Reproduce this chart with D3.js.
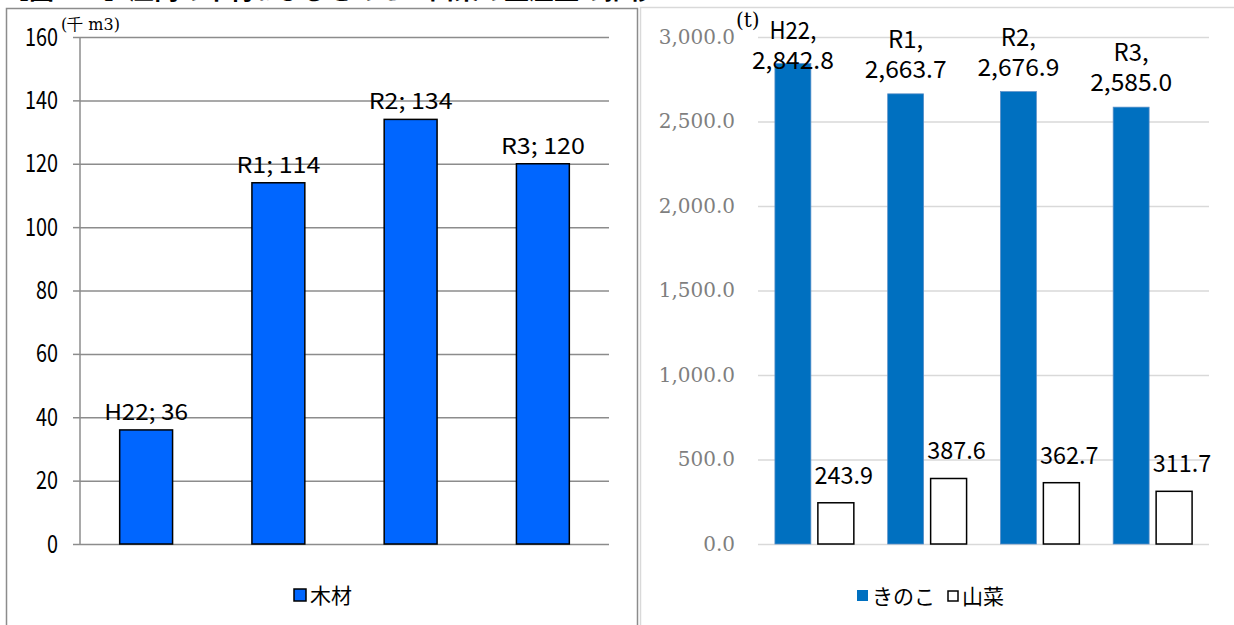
<!DOCTYPE html>
<html>
<head>
<meta charset="utf-8">
<script src="https://cdn.jsdelivr.net/npm/d3@7"></script>
<style>
  body { margin: 0; background: #fff; }
  svg { display: block; }
  .lbl { font-family: 'Noto Sans CJK JP', sans-serif; }
</style>
</head>
<body>
<svg id="chart" width="1234" height="625"></svg>
<script>
// data
const years = ["H22", "R1", "R2", "R3"];
const timber = [36, 114, 134, 120];                // 千m3
const mushroom = [2842.8, 2663.7, 2676.9, 2585.0]; // t
const wildVeg = [243.9, 387.6, 362.7, 311.7];      // t
const timberTicks = [0, 20, 40, 60, 80, 100, 120, 140, 160];
const tonTicks = [0, 500, 1000, 1500, 2000, 2500, 3000];
const seriesNames = ["きのこ", "山菜"];

const svg = d3.select("#chart");
const fmt = d3.format(",.1f");

// squeeze text into fixed-width cells so it looks like the narrow gothic of the original
function mono(sel, perChar) {
    sel.each(function () {
        const t = d3.select(this);
        t.attr("textLength", t.text().length * perChar).attr("lengthAdjust", "spacingAndGlyphs");
    });
}

// title (cut off at top in the original)
svg.append("text")
    .attr("x", 4).attr("y", -1)
    .attr("font-family", "'Noto Sans CJK JP', sans-serif")
    .attr("font-weight", "bold")
    .attr("font-size", 25)
    .text("【図　　】庄内の木材およびきのこ・山菜の生産量の推移");

// panel frames
svg.append("path").attr("d", "M6.5,625 V8.5 H637.5 V625")
    .attr("fill", "none").attr("stroke", "#8c8c8c").attr("stroke-width", 1.5);
svg.append("path").attr("d", "M640.5,625 V7.5 H1234")
    .attr("fill", "none").attr("stroke", "#d9d9d9").attr("stroke-width", 1.5);

// ---------- left: 木材 ----------
const yL = d3.scaleLinear().domain([0, 160]).range([544, 37]);
const xL = d3.scaleBand().domain(years).range([80, 609]).paddingInner(0.6).paddingOuter(0.3);

const gridL = svg.append("g").attr("transform", "translate(80,0)")
    .call(d3.axisLeft(yL).tickValues(timberTicks).tickSize(-529).tickFormat(""));
gridL.select(".domain").remove();
gridL.selectAll(".tick line").attr("stroke", "#8c8c8c").attr("stroke-width", 1.5);

const axL = svg.append("g").attr("transform", "translate(80,0)")
    .call(d3.axisLeft(yL).tickValues(timberTicks).tickSize(7).tickPadding(15));
axL.select(".domain").attr("stroke", "#8c8c8c").attr("stroke-width", 1.5).attr("d", "M0,544V37");
axL.selectAll(".tick line").attr("stroke", "#8c8c8c").attr("stroke-width", 1.5);
axL.selectAll(".tick text").attr("class", "lbl").attr("font-size", 25).attr("fill", "#000")
    .call(mono, 11);

svg.append("text").attr("x", 61).attr("y", 30)
    .attr("font-family", "'DejaVu Serif', serif").attr("font-size", 16)
    .text("(千 m3)");

svg.append("g").selectAll("rect").data(timber).join("rect")
    .attr("x", (d, i) => xL(years[i]))
    .attr("y", d => yL(d))
    .attr("width", xL.bandwidth())
    .attr("height", d => yL(0) - yL(d))
    .attr("fill", "#0066ff")
    .attr("stroke", "#000").attr("stroke-width", 1.5);

svg.append("g").selectAll("text").data(timber).join("text")
    .attr("class", "lbl")
    .attr("x", (d, i) => xL(years[i]) + xL.bandwidth() / 2)
    .attr("y", d => yL(d) - 10)
    .attr("text-anchor", "middle")
    .attr("font-size", 22)
    .text((d, i) => `${years[i]}; ${d}`)
    .call(mono, 12);

// legend left
const legL = svg.append("g").attr("transform", "translate(294,589)");
legL.append("rect").attr("width", 12).attr("height", 12)
    .attr("fill", "#0066ff").attr("stroke", "#000").attr("stroke-width", 1.5);
legL.append("text").attr("x", 16).attr("y", 14)
    .attr("font-family", "'Noto Sans CJK JP', sans-serif").attr("font-size", 21)
    .text("木材");

// ---------- right: きのこ・山菜 ----------
const yR = d3.scaleLinear().domain([0, 3000]).range([544, 37]);
const xR = d3.scaleBand().domain(years).range([758, 1209]).paddingInner(0.3).paddingOuter(0.15);
const xS = d3.scaleBand().domain(seriesNames).range([0, xR.bandwidth()]).paddingInner(0.163);

const gridR = svg.append("g").attr("transform", "translate(758,0)")
    .call(d3.axisLeft(yR).tickValues(tonTicks).tickSize(-451).tickPadding(23)
        .tickFormat(fmt));
gridR.select(".domain").remove();
gridR.selectAll(".tick line").attr("stroke", "#d9d9d9").attr("stroke-width", 1.5);
gridR.selectAll(".tick text").attr("font-family", "'DejaVu Serif', serif")
    .attr("font-size", 20).attr("fill", "#7f7f7f");

svg.append("text").attr("x", 736).attr("y", 27)
    .attr("font-family", "'DejaVu Serif', serif").attr("font-size", 20)
    .text("(t)");

const groups = svg.append("g").selectAll("g").data(years).join("g")
    .attr("transform", d => `translate(${xR(d)},0)`);

groups.append("rect")
    .attr("x", xS("きのこ"))
    .attr("y", (d, i) => yR(mushroom[i]))
    .attr("width", xS.bandwidth())
    .attr("height", (d, i) => yR(0) - yR(mushroom[i]))
    .attr("fill", "#0070c0")
    .attr("stroke", "#5b8fc7").attr("stroke-width", 0.75);

groups.append("rect")
    .attr("x", xS("山菜"))
    .attr("y", (d, i) => yR(wildVeg[i]))
    .attr("width", xS.bandwidth())
    .attr("height", (d, i) => yR(0) - yR(wildVeg[i]))
    .attr("fill", "#fff")
    .attr("stroke", "#000").attr("stroke-width", 1.5);

// two-line labels for きのこ, kept inside the plot at the top
const labBase = (d, i) => Math.max(yR(mushroom[i]) - 16, 69);
const labX = xS("きのこ") + xS.bandwidth() / 2;
groups.append("text")
    .attr("class", "lbl").attr("text-anchor", "middle").attr("font-size", 24)
    .attr("x", labX).attr("y", (d, i) => labBase(d, i) - 30)
    .text(d => d + ",")
    .call(mono, 11.7);
groups.append("text")
    .attr("class", "lbl").attr("text-anchor", "middle").attr("font-size", 24)
    .attr("x", labX).attr("y", labBase)
    .text((d, i) => fmt(mushroom[i]))
    .call(mono, 11.7);

groups.append("text")
    .attr("class", "lbl")
    .attr("text-anchor", "middle")
    .attr("font-size", 24)
    .attr("x", xS("山菜") + xS.bandwidth() / 2 + 8)
    .attr("y", (d, i) => yR(wildVeg[i]) - 19)
    .text((d, i) => fmt(wildVeg[i]))
    .call(mono, 11.7);

// legend right
const legR = svg.append("g").attr("transform", "translate(857,590)");
legR.append("rect").attr("width", 11).attr("height", 11).attr("fill", "#0070c0");
legR.append("text").attr("x", 15).attr("y", 14)
    .attr("font-family", "'Noto Sans CJK JP', sans-serif").attr("font-size", 21)
    .text("きのこ");
legR.append("rect").attr("x", 91).attr("y", 1).attr("width", 10).attr("height", 10)
    .attr("fill", "#fff").attr("stroke", "#000").attr("stroke-width", 1.5);
legR.append("text").attr("x", 105).attr("y", 14)
    .attr("font-family", "'Noto Sans CJK JP', sans-serif").attr("font-size", 21)
    .text("山菜");
</script>
</body>
</html>
